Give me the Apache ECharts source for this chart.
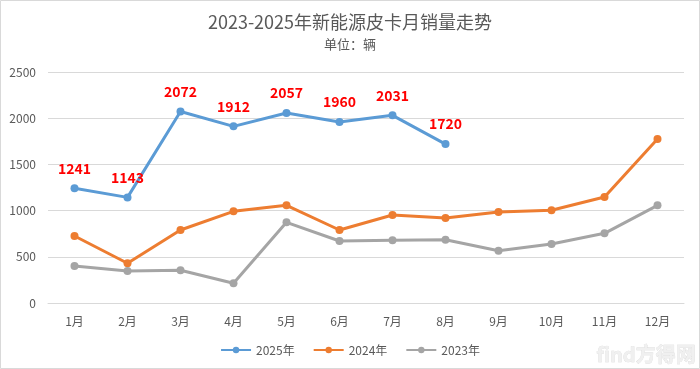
<!DOCTYPE html>
<html><head><meta charset="utf-8">
<script src="https://cdn.jsdelivr.net/npm/echarts@6/dist/echarts.min.js"></script>
<style>html,body{margin:0;padding:0;background:#fff}#c{width:700px;height:369px}</style>
</head><body><div id="c"></div>
<script>
const categories = ['1月','2月','3月','4月','5月','6月','7月','8月','9月','10月','11月','12月'];
const s2025 = [1241,1143,2072,1912,2057,1960,2031,1720];
const s2024 = [725,430,790,992,1057,790,952,920,985,1003,1147,1775];
const s2023 = [400,346,354,213,873,671,678,685,566,638,754,1057];
const yTicks = [0,500,1000,1500,2000,2500];

const chart = echarts.init(document.getElementById('c'));
const font = '"Noto Sans CJK SC", "Noto Sans", sans-serif';
function line(name, data, color, label) {
  return {
    name, type: 'line', data, symbol: 'circle', symbolSize: 8,
    lineStyle: { width: 3, color }, itemStyle: { color },
    label: label ? { show: true, position: 'top', distance: 9, color: '#FF0000', fontWeight: 'bold', fontSize: 14, fontFamily: font } : { show: false },
    animation: false
  };
}
chart.setOption({
  animation: false,
  textStyle: { fontFamily: font },
  title: {
    text: '2023-2025年新能源皮卡月销量走势',
    subtext: '单位：辆',
    left: 'center', top: 8, itemGap: 7,
    textStyle: { fontSize: 18, fontWeight: 'normal', color: '#595959', fontFamily: font },
    subtextStyle: { fontSize: 13, color: '#595959', fontFamily: font }
  },
  legend: {
    bottom: 8, left: 'center', itemWidth: 30, itemHeight: 8, itemGap: 18,
    textStyle: { fontSize: 12, color: '#595959' },
    data: ['2025年','2024年','2023年']
  },
  grid: { left: 48, right: 16, top: 72, bottom: 66 },
  xAxis: {
    type: 'category', data: categories, boundaryGap: true,
    axisLine: { lineStyle: { color: '#D9D9D9' } }, axisTick: { show: false },
    axisLabel: { color: '#595959', fontSize: 12, margin: 12 }
  },
  yAxis: {
    type: 'value', min: yTicks[0], max: yTicks[yTicks.length-1], interval: 500,
    axisLine: { show: false }, axisTick: { show: false },
    axisLabel: { color: '#595959', fontSize: 12, margin: 12, formatter: v => String(v) },
    splitLine: { lineStyle: { color: '#D9D9D9' } }
  },
  series: [
    line('2025年', s2025, '#5B9BD5', true),
    line('2024年', s2024, '#ED7D31', false),
    line('2023年', s2023, '#A5A5A5', false)
  ],
  graphic: [
    { type: 'rect', shape: { x: 0.5, y: 0.5, width: 699, height: 368 }, style: { fill: 'none', stroke: '#D9D9D9', lineWidth: 1 } },
    { type: 'text', right: 4, bottom: 4, style: { text: 'find方得网', fill: '#F0F0F0', font: 'bold 20px ' + font, stroke: '#D6D6D6', lineWidth: 0.5 } }
  ]
});
</script></body></html>
